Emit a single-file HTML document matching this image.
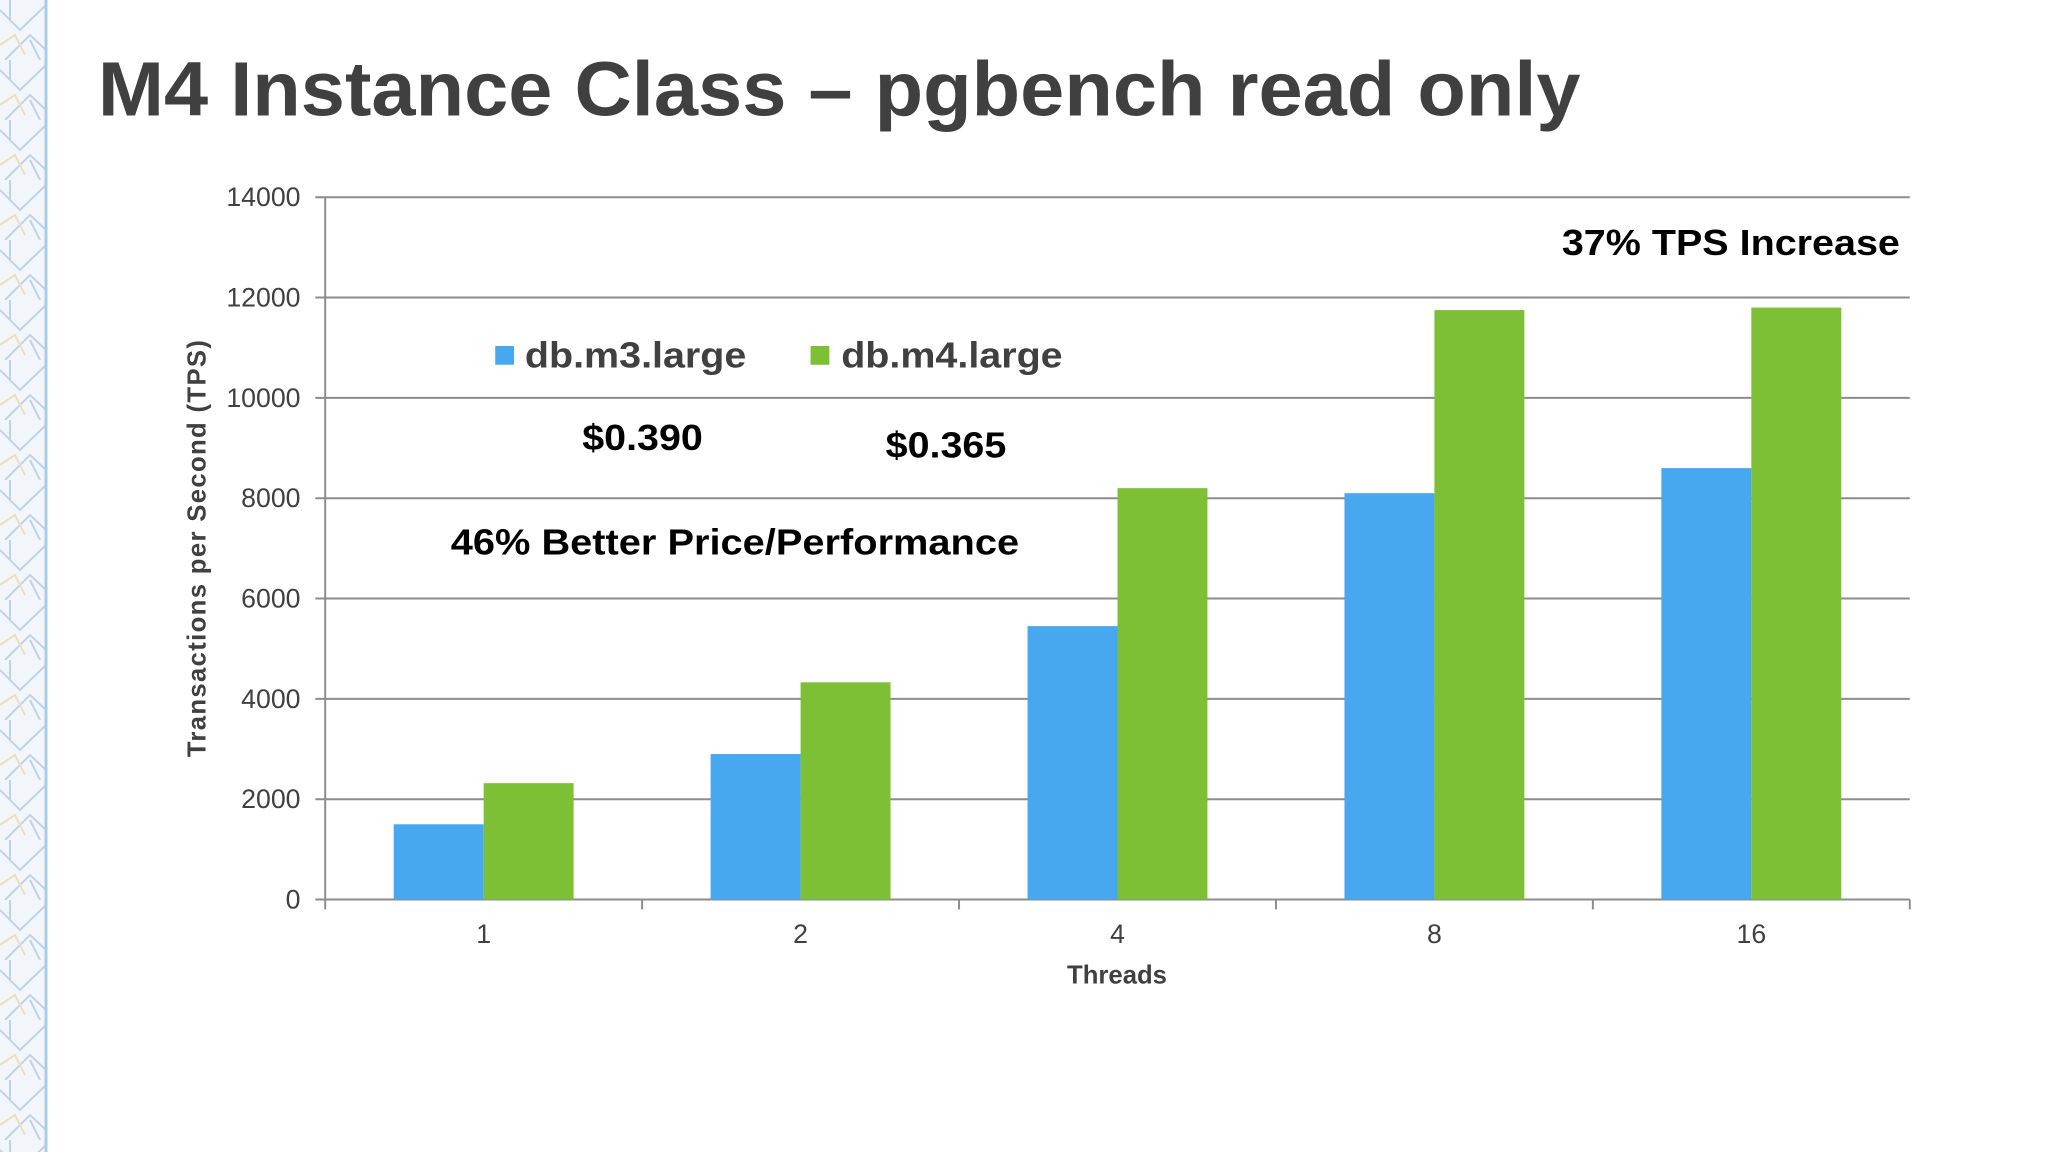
<!DOCTYPE html>
<html><head><meta charset="utf-8"><style>
html,body{margin:0;padding:0;background:#fff;}
svg{display:block;font-family:"Liberation Sans",sans-serif;}
</style></head><body>
<svg id="c" width="2048" height="1152" viewBox="0 0 2048 1152">
<defs>
<pattern id="pat" width="46" height="60" patternUnits="userSpaceOnUse">
<path d="M0 10 L20 30 L46 5 M5 60 L30 35 L46 50 M10 0 L10 20 M30 40 L40 60" stroke="#a8c4e2" stroke-width="2" fill="none"/>
<path d="M0 45 L15 35 L25 55" stroke="#ecd4a4" stroke-width="2" fill="none"/>
</pattern>
</defs>
<rect x="0" y="0" width="46" height="1152" fill="#f2f6fb"/>
<rect x="0" y="0" width="46" height="1152" fill="url(#pat)" opacity="0.7"/>
<line x1="46" y1="0" x2="46" y2="1152" stroke="#a9cde6" stroke-width="3"/>
<g transform="scale(0.9885)">
<text x="99" y="117" font-size="78" font-weight="bold" fill="#404040" textLength="1500" lengthAdjust="spacingAndGlyphs">M4 Instance Class – pgbench read only</text>
<g id="grid"></g>
<g id="bars"></g>
<g id="labels"></g>
<text transform="translate(208,555) rotate(-90)" text-anchor="middle" font-size="26" font-weight="bold" fill="#404040" textLength="422" lengthAdjust="spacing">Transactions per Second (TPS)</text>
<text x="1130" y="995" text-anchor="middle" font-size="26" font-weight="bold" fill="#404040">Threads</text>
<rect x="501" y="350" width="19" height="19" fill="#47a7ef"/>
<text x="531" y="372" font-size="37" font-weight="bold" fill="#404040" textLength="224" lengthAdjust="spacingAndGlyphs">db.m3.large</text>
<rect x="820" y="350" width="19" height="19" fill="#7dc036"/>
<text x="851" y="372" font-size="37" font-weight="bold" fill="#404040" textLength="224" lengthAdjust="spacingAndGlyphs">db.m4.large</text>
<text x="589" y="455" font-size="37" font-weight="bold" fill="#000" textLength="122" lengthAdjust="spacingAndGlyphs">$0.390</text>
<text x="896" y="463" font-size="37" font-weight="bold" fill="#000" textLength="122" lengthAdjust="spacingAndGlyphs">$0.365</text>
<text x="456" y="561" font-size="37" font-weight="bold" fill="#000" textLength="575" lengthAdjust="spacingAndGlyphs">46% Better Price/Performance</text>
<text x="1580" y="258" font-size="37" font-weight="bold" fill="#000" textLength="342" lengthAdjust="spacingAndGlyphs">37% TPS Increase</text>
</g>
</svg>
<script>
const categories=["1","2","4","8","16"];
const m3Values=[1500,2900,5450,8100,8600];
const m4Values=[2320,4330,8200,11750,11800];
const yTicks=[0,2000,4000,6000,8000,10000,12000,14000];
const ns="http://www.w3.org/2000/svg";
const X0=329,X1=1932,Y0=910,Y1=199.5,YMAX=14000;
const y=v=>Y0-(v/YMAX)*(Y0-Y1);
const gw=(X1-X0)/categories.length;
const bw=91;
function mk(tag,attrs,parent){const e=document.createElementNS(ns,tag);for(const k in attrs)e.setAttribute(k,attrs[k]);parent.appendChild(e);return e;}
const grid=document.getElementById('grid'),bars=document.getElementById('bars'),labels=document.getElementById('labels');
yTicks.forEach(t=>{
  const l=mk('line',{x1:X0-10,x2:X1,y1:y(t),y2:y(t),stroke:'#8c8c8c','stroke-width':2},grid);
  
  
  const tx=mk('text',{x:304,y:y(t)+9,'text-anchor':'end','font-size':27,fill:'#404040'},labels);
  tx.textContent=t;
  
  
});
const ax=mk('line',{x1:X0,x2:X0,y1:Y1,y2:Y0,stroke:'#8c8c8c','stroke-width':2},grid);


for(let i=0;i<=categories.length;i++){
  const tk=mk('line',{x1:X0+i*gw,x2:X0+i*gw,y1:Y0,y2:Y0+10,stroke:'#8c8c8c','stroke-width':2},grid);
  
  
}
categories.forEach((c,i)=>{
  const cx=X0+gw*(i+0.5);
  const b1=mk('rect',{x:cx-bw,y:y(m3Values[i]),width:bw,height:Y0-y(m3Values[i]),fill:'#47a7ef'},bars);
  
  
  const b2=mk('rect',{x:cx,y:y(m4Values[i]),width:bw,height:Y0-y(m4Values[i]),fill:'#7dc036'},bars);
  
  
  const tx=mk('text',{x:cx,y:954,'text-anchor':'middle','font-size':27,fill:'#404040'},labels);
  tx.textContent=c;
  
  
});
</script>
</body></html>
